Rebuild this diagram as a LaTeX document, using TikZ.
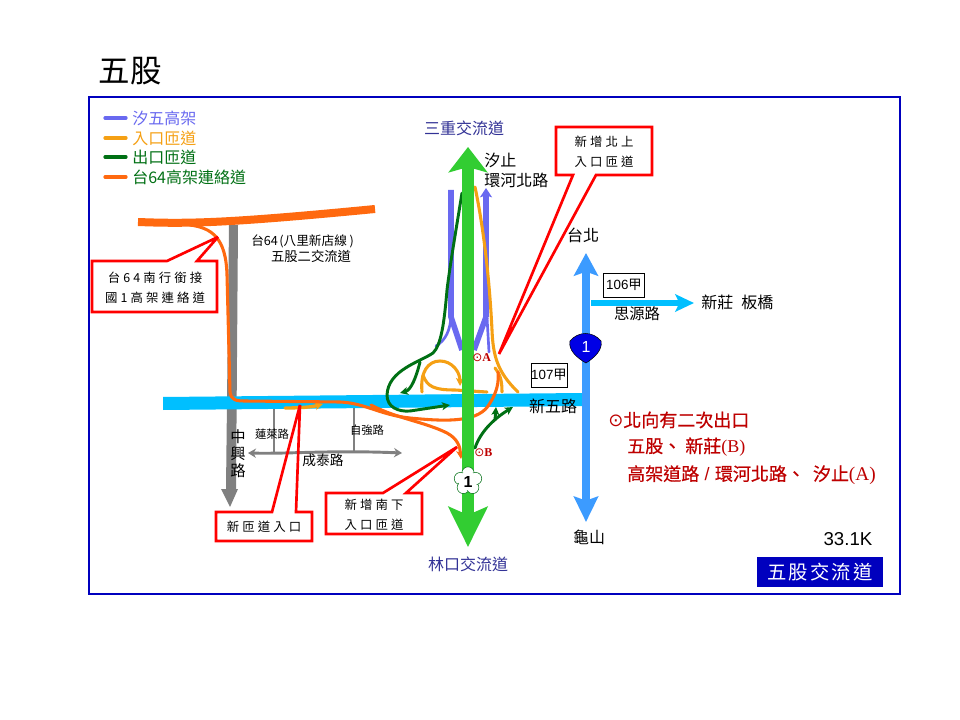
\documentclass[tikz,border=0pt]{standalone}
\usepackage{fontspec}
\usetikzlibrary{arrows.meta}
\setmainfont{Noto Sans CJK TC}
\newfontfamily\cjk{Noto Sans CJK TC}
\newfontfamily\cjkw[LetterSpace=25]{Noto Sans CJK TC}
\newfontfamily\cjkv[LetterSpace=12]{Noto Sans CJK TC}
\newfontfamily\redf[FakeBold=0.6]{Noto Sans CJK TC}
\newfontfamily\arl{Liberation Sans}
\newfontfamily\srf{Liberation Serif}
\newfontfamily\djv{DejaVu Sans}
\definecolor{frameblue}{RGB}{0,0,190}
\definecolor{roadcyan}{RGB}{0,191,255}
\definecolor{natblue}{RGB}{60,155,255}
\definecolor{mainGreen}{RGB}{50,205,50}
\definecolor{elev}{RGB}{105,105,240}
\definecolor{ramp}{RGB}{245,160,20}
\definecolor{exitg}{RGB}{0,112,20}
\definecolor{link}{RGB}{255,105,15}
\definecolor{gr}{RGB}{128,128,128}
\definecolor{navy}{RGB}{50,50,150}
\definecolor{dred}{RGB}{190,0,0}
\newcommand{\fs}[1]{\fontsize{#1}{#1}\selectfont}
\tikzset{
 x=0.75pt,y=-0.75pt,
 txt/.style={inner sep=0pt,font=\fs{12}},
 smalltxt/.style={inner sep=0pt,font=\fs{8.5}},
 calltxt/.style={inner sep=0pt,font=\cjkw\fs{9.3},text=black},
 callout/.style={draw=red,line width=2pt,miter limit=3},
 elevated/.style={draw=elev,line width=4.2pt},
 thinelev/.style={draw=elev,line width=2pt,line cap=round},
 ramppath/.style={draw=ramp,line width=2.3pt,line cap=round},
 exitpath/.style={draw=exitg,line width=2.2pt,line cap=round},
 linkpath/.style={draw=link,line width=2.3pt,line cap=round},
 smtip/.style={-{Stealth[length=6pt,width=6pt,inset=1.5pt]}},
 box/.style={draw=black,fill=white,line width=.7pt,minimum width=#1,minimum height=18pt,inner sep=0pt,font=\arl\fs{10}},
 legline/.style={line width=2.4pt,line cap=round},
 legtxt/.style={inner sep=0pt,anchor=west,font=\fs{12}},
 rednote/.style={inner sep=0pt,anchor=west,text=dred,font=\redf\fs{13.5}},
}
\begin{document}
\begin{tikzpicture}
\useasboundingbox (0,0) rectangle (960,720);
\fill[white] (0,0) rectangle (960,720);
\node[inner sep=0pt,font=\fs{23.6}] (title) at (130,71) {五股};
\draw[frameblue,line width=1.6pt] (89,97) rectangle (900,594);

% legend
\coordinate (l1a) at (105,118); \coordinate (l1b) at (126,118);
\coordinate (l2a) at (105,138); \coordinate (l2b) at (126,138);
\coordinate (l3a) at (105,157); \coordinate (l3b) at (126,157);
\coordinate (l4a) at (105,177); \coordinate (l4b) at (126,177);
\draw[legline,elev] (l1a)--(l1b);
\draw[legline,ramp] (l2a)--(l2b);
\draw[legline,exitg] (l3a)--(l3b);
\draw[legline,link] (l4a)--(l4b);
\node[legtxt,text=elev] (lt1) at (132,118) {汐五高架};
\node[legtxt,text=ramp] (lt2) at (132,138) {入口匝道};
\node[legtxt,text=exitg] (lt3) at (132,157) {出口匝道};
\node[legtxt,text=exitg] (lt4) at (132,177) {台64高架連絡道};

% grey roads
\fill[gr] (229,225) -- (238,225) -- (236,489) -- (238,489) -- (230,507) -- (221,489) -- (226,489) -- cycle;
\draw[gr,line width=2.2pt] (274,407) -- (274,452);
\draw[gr,line width=2.2pt] (354,407) -- (354,451);
\draw[gr,line width=2.2pt,{Stealth[length=6pt,width=7pt]}-{Stealth[length=6pt,width=7pt]}] (248,453) .. controls (290,454) and (330,450) .. (402,453);

% cyan road
\fill[roadcyan] (163,397) -- (582,393) -- (582,406) -- (163,410) -- cycle;
\coordinate (sy1) at (591,303); \coordinate (sy2) at (694,303);
\draw[roadcyan,line width=4.5pt,-{Stealth[length=14pt,width=13pt,inset=3pt]}] (sy1) -- (sy2);

% national road 1 blue
\coordinate (n1a) at (586,400); \coordinate (n1t) at (586,253); \coordinate (n1b) at (586,522);
\draw[natblue,line width=6.5pt,-{Stealth[length=17pt,width=18pt,inset=3pt]}] (n1a) -- (n1t);
\draw[natblue,line width=6.5pt,-{Stealth[length=19pt,width=18pt,inset=3pt]}] (n1a) -- (n1b);

% elevated road
\draw[elevated] (451,190) -- (451,317) -- (462,350);
\draw[thinelev] (451,317) .. controls (450,330) and (446,340) .. (436,346);
\draw[elevated,-{Stealth[length=7pt,width=9pt,inset=1.5pt]}] (486,317) -- (486,188);
\draw[elevated] (486,317) -- (474,350);
\draw[thinelev] (487,317) -- (489,352);

% ramps
\draw[ramppath] (475,187) .. controls (482,220) and (489,270) .. (492,330) .. controls (493,355) and (497,372) .. (518,392);
\draw[ramppath] (495,368) .. controls (500,374) and (502,380) .. (502,392);
\draw[ramppath,smtip] (422,392) .. controls (420,372) and (428,361) .. (440,361) .. controls (452,361) and (460,372) .. (460,386);
\draw[ramppath] (423,375) .. controls (427,387) and (435,390) .. (455,390) -- (487,392);
\draw[ramppath,smtip,line width=2.5pt] (285,408) .. controls (300,408) and (312,407) .. (323,404);

% exit ramps
\draw[exitpath] (462,193) .. controls (456,230) and (450,265) .. (447,290) .. controls (444,325) and (441,345) .. (433,353) .. controls (420,362) and (388,370) .. (387,395) .. controls (387,407) and (398,412) .. (410,411);
\draw[exitpath,smtip] (410,411) -- (450,405);
\draw[exitpath,smtip] (420,362) .. controls (416,378) and (411,390) .. (400,393);
\draw[exitpath,smtip] (475,448) .. controls (480,433) and (492,420) .. (513,407);
\draw[exitpath,smtip] (495,420) -- (496,407);

% link road
\draw[link,line width=6pt] (138,222) .. controls (190,224) and (230,223) .. (375,209);
\draw[linkpath] (190,225) .. controls (212,228) and (226,238) .. (227,275) -- (230,392) .. controls (231,400) and (236,401) .. (245,401) -- (340,402) .. controls (365,403) and (380,415) .. (410,418) .. controls (450,422) and (480,422) .. (490,403) .. controls (497,392) and (499,382) .. (498,372);
\draw[linkpath,smtip] (371,405) .. controls (395,418) and (425,422) .. (447,433) .. controls (458,439) and (460,447) .. (461,459);

% main green
\coordinate (m0) at (468,350); \coordinate (mt) at (468,147); \coordinate (mb) at (468,547);
\draw[mainGreen,line width=9.5pt,-{Stealth[length=19pt,width=29pt,inset=4pt]}] (m0) -- (mt);
\draw[mainGreen,line width=9.5pt,-{Stealth[length=30pt,width=29pt,inset=6pt]}] (m0) -- (mb);

% flower shield
\foreach \a in {90,162,234,306,18}{
 \fill[white,draw=exitg,line width=.4pt] (468,481) ++(\a:6pt) circle (4.6pt);
}
\fill[white] (468,481) circle (7pt);
\node[inner sep=0pt,font=\arl\bfseries\fs{12}] (f1) at (468,482) {1};

% national shield
\fill[blue!90!black,draw=black,line width=.4pt] (570,341) .. controls (578,331) and (593,331) .. (601,341) .. controls (603,350) and (594,358) .. (586,363) .. controls (577,358) and (568,350) .. (570,341) -- cycle;
\node[inner sep=0pt,font=\arl\fs{12},text=white] (s1) at (586,347) {1};

% callouts: white boxes, open pointers
\fill[white] (92,261) rectangle (217,312);
\fill[white] (556,127) rectangle (652,175);
\fill[white] (216,512) rectangle (312,541);
\fill[white] (326,493) rectangle (422,534);
\draw[callout] (92,261) -- (167,261) -- (218,237) -- (197,261) -- (217,261) -- (217,312) -- (92,312) -- cycle;
\draw[callout] (556,127) -- (652,127) -- (652,175) -- (596,175) -- (499,354) -- (573,175) -- (556,175) -- cycle;
\draw[callout] (216,512) -- (272,512) -- (300,405) -- (296,512) -- (312,512) -- (312,541) -- (216,541) -- cycle;
\draw[callout] (326,493) -- (383,493) -- (457,447) -- (406,493) -- (422,493) -- (422,534) -- (326,534) -- cycle;

\node[calltxt] (c1a) at (155,278) {台64南行銜接};
\node[calltxt] (c1b) at (155,298) {國1高架連絡道};
\node[calltxt] (c2a) at (604,142) {新增北上};
\node[calltxt] (c2b) at (604,162) {入口匝道};
\node[calltxt] (c3) at (264,527) {新匝道入口};
\node[calltxt] (c4a) at (374,505) {新增南下};
\node[calltxt] (c4b) at (374,525) {入口匝道};

% boxes
\node[box=31pt] (b106) at (624,285) {106{\cjk 甲}};
\node[box=27pt] (b107) at (549,375) {107{\cjk 甲}};

% labels
\node[txt,text=navy] (t1) at (464,128) {三重交流道};
\node[txt,text=navy] (t2) at (468,564) {林口交流道};
\node[txt,anchor=west] (t3) at (484,160) {汐止};
\node[txt,anchor=west] (t4) at (484,180) {環河北路};
\node[smalltxt,anchor=west,font=\fs{9.5}] (t5) at (251,241) {台64\hspace{1pt}(八里新店線\hspace{2pt})};
\node[smalltxt,font=\fs{10}] (t6) at (311,256) {五股二交流道};
\node[txt] (t7) at (583,235) {台北};
\node[txt,anchor=west] (t8) at (701,302) {新莊\hspace{6pt}板橋};
\node[txt,font=\fs{11.5}] (t9) at (637,314) {思源路};
\node[txt] (t10) at (553,406) {新五路};
\node[txt] (t11) at (589,537) {龜山};
\node[smalltxt] (t12) at (272,434) {蓮萊路};
\node[smalltxt] (t13) at (367,430) {自強路};
\node[txt,font=\fs{10.3}] (t14) at (323,460) {成泰路};
\node[txt,font=\fs{11.5}] (t15) at (238,437) {中};
\node[txt,font=\fs{11.5}] (t16) at (238,454) {興};
\node[txt,font=\fs{11.5}] (t17) at (238,471) {路};

% marks
\node[inner sep=0pt,text=dred,anchor=west,font=\fs{9}] (ma) at (472,358) {{\djv ⊙}{\srf\bfseries A}};
\node[inner sep=0pt,text=dred,anchor=west,font=\fs{9}] (mb2) at (474,453) {{\djv ⊙}{\srf\bfseries B}};

% red note
\node[rednote] (r1) at (608,420) {{\djv ⊙}北向有二次出口};
\node[rednote] (r2) at (627,447) {五股、\hspace{3pt}新莊{\srf\fs{13.5}(B)}};
\node[rednote] (r3) at (627,475) {高架道路\hspace{4pt}{\arl /}\hspace{4pt}環河北路、\hspace{6pt}汐止{\srf\fs{14.5}(A)}};

\node[inner sep=0pt,font=\arl\fs{14}] (size) at (848,539) {33.1K};
\node[fill=frameblue,text=white,minimum width=94.5pt,minimum height=22pt,inner sep=0pt,font=\cjkv\fs{14.5}] (name) at (820,572) {五股交流道};
\end{tikzpicture}
\end{document}
